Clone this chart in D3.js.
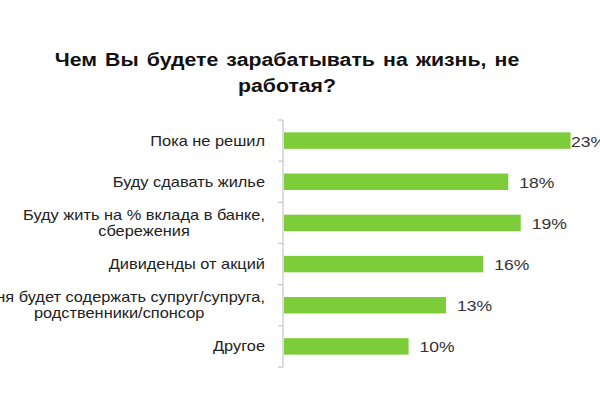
<!DOCTYPE html>
<html>
<head>
<meta charset="utf-8">
<script src="https://cdn.jsdelivr.net/npm/d3@7"></script>
<style>
    body { margin: 0; background: white; font-family: Arial, "Liberation Sans", sans-serif; }
    svg { display: block; }
</style>
</head>
<body>
<svg id="chart"></svg>
<script>

let titleLines = ["Чем Вы будете зарабатывать на жизнь, не", "работая?"]

let categories = [
    ["Пока не решил"],
    ["Буду сдавать жилье"],
    ["Буду жить на % вклада в банке,", "сбережения"],
    ["Дивиденды от акций"],
    ["Меня будет содержать супруг/супруга,", "родственники/спонсор"],
    ["Другое"]
]

let values = [23, 18, 19, 16, 13, 10]

let width = 600
let height = 400
let stretch = 1.17   // the picture's text looks a bit wide

let svg = d3.select("#chart")
    .attr("width", width)
    .attr("height", height)

// title
svg.selectAll("text.title").data(titleLines)
    .enter().append("text")
    .attr("class", "title")
    .attr("transform", (d, i) => `translate(287,${66 + i * 26}) scale(1.12,1)`)
    .attr("text-anchor", "middle")
    .attr("font-size", 19)
    .attr("font-weight", "bold")
    .attr("word-spacing", (d, i) => i ? 0 : 2)
    .attr("fill", "#111")
    .text(d => d)

let rows = values.map((v, i) => ({label: categories[i], value: v}))

let y = d3.scaleBand()
    .domain(d3.range(rows.length))
    .range([120, 367])
    .paddingInner(0.6)
    .paddingOuter(0.3)

let x = d3.scaleLinear()
    .domain([0, 25])
    .range([284, 595.5])

// axis line + ticks between categories
let axisX = 283
svg.append("line")
    .attr("x1", axisX).attr("x2", axisX)
    .attr("y1", 120).attr("y2", 367)
    .attr("stroke", "#bbb")
svg.selectAll("line.tick").data(d3.range(rows.length + 1))
    .enter().append("line")
    .attr("class", "tick")
    .attr("x1", axisX - 5).attr("x2", axisX)
    .attr("y1", i => 120 + i * (247 / rows.length))
    .attr("y2", i => 120 + i * (247 / rows.length))
    .attr("stroke", "#bbb")

// bars
svg.selectAll("rect.bar").data(rows)
    .enter().append("rect")
    .attr("class", "bar")
    .attr("x", x(0))
    .attr("y", (d, i) => y(i))
    .attr("width", d => x(d.value) - x(0))
    .attr("height", y.bandwidth())
    .attr("fill", "#7dcc3a")

// category labels: first line right aligned, next lines centred under it
rows.forEach((d, i) => {
    let yc = y(i) + y.bandwidth() / 2 + 5 - (d.label.length - 1) * 8
    let g = svg.append("g")
        .attr("transform", `translate(265,${yc}) scale(${stretch},1)`)
        .attr("font-size", 14)
        .attr("fill", "#222")
    let first = g.append("text")
        .attr("text-anchor", "end")
        .text(d.label[0])
    let w = first.node().getComputedTextLength()
    d.label.slice(1).forEach((line, k) => {
        g.append("text")
            .attr("text-anchor", "middle")
            .attr("x", -w / 2)
            .attr("y", (k + 1) * 16)
            .text(line)
    })
})

// value labels
svg.selectAll("text.val").data(rows)
    .enter().append("text")
    .attr("class", "val")
    .attr("transform", (d, i) =>
        `translate(${Math.min(x(d.value) + 11, 571)},${y(i) + y.bandwidth() / 2 + 6}) scale(${stretch},1)`)
    .attr("font-size", 15)
    .attr("fill", "#333")
    .text(d => d.value + "%")

</script>
</body>
</html>
